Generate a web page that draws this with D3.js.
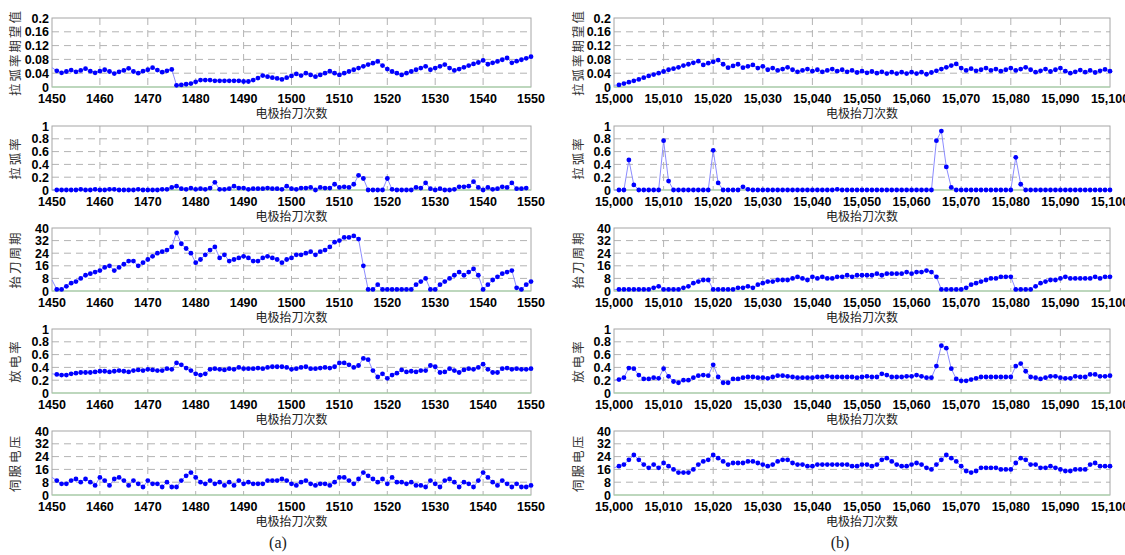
<!DOCTYPE html>
<html>
<head>
<meta charset="utf-8">
<script src="https://d3js.org/d3.v7.min.js"></script>
<style>
  body { margin: 0; background: #fff; }
</style>
</head>
<body>
<div id="chart"></div>
<script>
// ---- data (index 0 = value at the axis start, markers from index 1) ----
const leftStart = 1450;
const rightStart = 15000;

const leftArcMean = [0.056,
  0.047,0.041,0.045,0.049,0.044,0.048,0.053,0.046,0.041,0.046,
  0.050,0.045,0.039,0.044,0.048,0.054,0.045,0.040,0.046,0.050,
  0.056,0.049,0.043,0.047,0.051,0.005,0.006,0.008,0.010,0.015,
  0.020,0.020,0.020,0.018,0.018,0.018,0.018,0.018,0.018,0.016,
  0.016,0.020,0.026,0.033,0.030,0.027,0.025,0.022,0.027,0.032,
  0.038,0.033,0.040,0.035,0.030,0.035,0.040,0.046,0.040,0.035,
  0.040,0.045,0.050,0.055,0.060,0.065,0.069,0.074,0.062,0.052,
  0.045,0.040,0.035,0.040,0.045,0.050,0.055,0.060,0.050,0.055,
  0.060,0.065,0.055,0.048,0.052,0.057,0.062,0.067,0.071,0.077,
  0.066,0.070,0.074,0.079,0.084,0.070,0.075,0.079,0.083,0.088];
const rightArcMean = [0.005,
  0.006,0.010,0.014,0.018,0.022,0.027,0.032,0.036,0.040,0.045,
  0.050,0.053,0.057,0.062,0.066,0.070,0.075,0.064,0.069,0.073,
  0.078,0.066,0.056,0.061,0.066,0.056,0.060,0.064,0.055,0.060,
  0.050,0.055,0.048,0.052,0.057,0.050,0.044,0.048,0.052,0.046,
  0.050,0.044,0.048,0.052,0.046,0.050,0.044,0.048,0.042,0.046,
  0.041,0.045,0.040,0.044,0.039,0.043,0.039,0.043,0.039,0.043,
  0.039,0.043,0.037,0.042,0.047,0.052,0.057,0.062,0.067,0.055,
  0.048,0.053,0.047,0.050,0.055,0.048,0.052,0.046,0.050,0.055,
  0.048,0.052,0.057,0.050,0.043,0.047,0.052,0.045,0.050,0.055,
  0.046,0.040,0.044,0.049,0.043,0.048,0.042,0.047,0.051,0.046];

const leftArcRate = [0,
  0,0,0,0,0,0.01,0,0,0.01,0,
  0,0.01,0.01,0,0,0,0,0.01,0,0,
  0,0,0.01,0.01,0.04,0.06,0.02,0.01,0.03,0.01,
  0.02,0.01,0.03,0.12,0.01,0.01,0.02,0.06,0.03,0.03,
  0.01,0.02,0.02,0.02,0.03,0.02,0.02,0.01,0.06,0.02,
  0.01,0.03,0.03,0.04,0,0.04,0.03,0.03,0.09,0.04,
  0.05,0.04,0.09,0.23,0.18,0,0,0,0,0.18,
  0.01,0,0,0,0,0.04,0.03,0.11,0.02,0,
  0.02,0,0,0.01,0.05,0.05,0.06,0.13,0.04,0,
  0.04,0.01,0.02,0.05,0.04,0.11,0.02,0.02,0.03];
const rightArcRate = [0,
  0,0,0.47,0.08,0,0,0,0,0,0.77,
  0.14,0,0,0,0,0,0,0,0,0.62,
  0.11,0,0,0,0,0.05,0.01,0,0,0,
  0,0,0,0,0,0,0,0,0,0,
  0,0,0,0,0.01,0,0,0,0,0,
  0,0,0,0,0,0,0,0,0,0,
  0,0,0,0,0.77,0.92,0.36,0.04,0,0,
  0,0,0,0,0,0,0,0,0,0,
  0.51,0.09,0,0,0,0,0,0,0,0,
  0,0,0,0,0,0,0,0,0,0];

const leftLiftPeriod = [7,
  1,1,3,5,6,8,10,11,12,13,
  15,16,13,15,17,19,19,16,18,20,
  22,24,25,26,28,37,30,27,24,18,
  20,23,26,28,21,23,19,20,21,22,
  21,19,19,21,22,21,20,18,20,21,
  23,23,24,25,23,25,26,28,31,32,
  34,34,35,33,16,1,1,4,1,1,
  1,1,1,1,1,4,6,8,1,1,
  4,6,8,10,12,10,12,14,10,1,
  4,7,9,11,12,13,2,1,4,6];
const rightLiftPeriod = [1,
  1,1,1,1,1,1,1,2,3,1,
  1,1,1,2,3,5,6,7,7,1,
  1,1,1,1,2,2,3,2,4,5,
  6,6,7,7,7,8,9,8,7,9,
  8,9,8,8,9,9,10,9,10,10,
  10,10,11,10,11,11,11,11,12,11,
  12,12,13,12,9,1,1,1,1,1,
  2,4,5,6,7,8,8,9,9,9,
  1,1,1,1,3,5,6,7,7,8,
  9,8,8,8,8,8,9,8,9,9];

const leftDischarge = [0.30,
  0.29,0.28,0.28,0.30,0.31,0.32,0.32,0.32,0.33,0.34,
  0.34,0.33,0.34,0.35,0.34,0.33,0.35,0.36,0.35,0.37,
  0.36,0.35,0.35,0.38,0.37,0.47,0.44,0.39,0.35,0.30,
  0.28,0.30,0.37,0.38,0.37,0.36,0.38,0.37,0.40,0.38,
  0.38,0.38,0.39,0.38,0.40,0.41,0.41,0.41,0.40,0.37,
  0.38,0.40,0.41,0.38,0.38,0.39,0.40,0.39,0.41,0.47,
  0.47,0.44,0.40,0.43,0.54,0.52,0.35,0.25,0.30,0.23,
  0.28,0.31,0.36,0.33,0.34,0.33,0.35,0.35,0.43,0.41,
  0.32,0.33,0.38,0.35,0.32,0.36,0.38,0.37,0.40,0.45,
  0.37,0.32,0.32,0.38,0.39,0.37,0.38,0.37,0.37,0.38];
const rightDischarge = [0.20,
  0.21,0.24,0.39,0.38,0.28,0.22,0.22,0.24,0.23,0.38,
  0.26,0.18,0.16,0.20,0.20,0.24,0.27,0.28,0.27,0.44,
  0.25,0.16,0.16,0.22,0.22,0.24,0.25,0.25,0.24,0.24,
  0.23,0.25,0.27,0.27,0.26,0.25,0.24,0.24,0.24,0.24,
  0.25,0.25,0.26,0.25,0.25,0.25,0.25,0.25,0.24,0.25,
  0.26,0.25,0.25,0.30,0.28,0.25,0.25,0.25,0.26,0.26,
  0.28,0.26,0.24,0.24,0.42,0.74,0.70,0.38,0.22,0.19,
  0.19,0.21,0.23,0.25,0.25,0.25,0.25,0.25,0.25,0.25,
  0.42,0.46,0.34,0.25,0.24,0.22,0.24,0.26,0.26,0.24,
  0.23,0.23,0.26,0.25,0.25,0.29,0.29,0.26,0.26,0.27];

const leftServoV = [11,
  9,7,7,9,10,8,10,8,6,11,
  9,6,10,11,9,6,9,7,5,9,
  7,7,5,8,5,5,9,12,14,11,
  8,7,9,7,8,6,8,6,9,7,
  8,7,7,7,9,9,9,10,9,7,
  6,8,9,7,6,7,7,6,8,11,
  11,9,7,10,14,12,10,8,10,7,
  11,8,8,7,8,6,6,5,9,7,
  5,9,10,8,5,8,7,5,9,14,
  11,8,6,9,7,5,7,5,5,6];
const rightServoV = [17,
  18,19,22,25,22,19,17,19,17,20,
  18,16,14,14,14,16,19,21,22,25,
  23,21,19,20,20,20,21,21,20,19,
  18,19,21,22,22,20,19,19,18,18,
  19,19,19,19,19,19,19,18,18,19,
  19,18,19,22,23,21,19,18,18,19,
  20,19,17,16,19,22,25,23,21,18,
  15,14,15,17,17,17,17,16,16,16,
  20,23,22,19,19,17,17,18,17,16,
  15,15,16,16,16,19,20,18,18,18];

// ---- rows and columns ----
const rowLabels = ["拉弧率期望值", "拉弧率", "抬刀周期", "放电率", "伺服电压"];
const rowTicks = [
  [0, 0.04, 0.08, 0.12, 0.16, 0.2],
  [0, 0.2, 0.4, 0.6, 0.8, 1],
  [0, 8, 16, 24, 32, 40],
  [0, 0.2, 0.4, 0.6, 0.8, 1],
  [0, 8, 16, 24, 32, 40]
];
const xTicksLeft = d3.range(1450, 1551, 10);
const xTicksRight = d3.range(15000, 15101, 10);

const leftSeries = [leftArcMean, leftArcRate, leftLiftPeriod, leftDischarge, leftServoV];
const rightSeries = [rightArcMean, rightArcRate, rightLiftPeriod, rightDischarge, rightServoV];

const rowTop = [18, 126, 228, 329, 431];
const rowBottom = [87, 190, 291, 393, 495];

const cols = [
  {x0: 52, x1: 531, start: leftStart, ticks: xTicksLeft, fmt: d3.format("d"), series: leftSeries, ylabX: 16, tag: "(a)", tagX: 278},
  {x0: 614, x1: 1110, start: rightStart, ticks: xTicksRight, fmt: d3.format(","), series: rightSeries, ylabX: 579, tag: "(b)", tagX: 840}
];

const tickFont = "'Liberation Sans', Arial, sans-serif";
const cjkFont = "'Noto Sans CJK SC', 'Noto Sans', sans-serif";

const svg = d3.select("#chart").append("svg")
  .attr("width", 1125)
  .attr("height", 555)
  .style("background", "#fff");

cols.forEach(function(c) {
  const x = d3.scaleLinear().domain([c.start, c.start + 100]).range([c.x0, c.x1]);

  rowTicks.forEach(function(ticks, r) {
    const y = d3.scaleLinear().domain([0, ticks[ticks.length - 1]]).range([rowBottom[r], rowTop[r]]);
    const g = svg.append("g");
    const vals = c.series[r];
    const pts = vals.map(function(v, i) { return {x: c.start + i, y: v}; });

    // dashed grid
    g.selectAll(".vg").data(c.ticks.slice(1, -1)).join("line")
      .attr("x1", d => x(d)).attr("x2", d => x(d))
      .attr("y1", rowTop[r]).attr("y2", rowBottom[r])
      .attr("stroke", "#b3b3b3").attr("stroke-dasharray", "7,5");
    g.selectAll(".hg").data(ticks.slice(1, -1)).join("line")
      .attr("x1", c.x0).attr("x2", c.x1)
      .attr("y1", d => y(d)).attr("y2", d => y(d))
      .attr("stroke", "#b3b3b3").attr("stroke-dasharray", "7,5");

    // frame
    g.append("rect")
      .attr("x", c.x0).attr("y", rowTop[r])
      .attr("width", c.x1 - c.x0).attr("height", rowBottom[r] - rowTop[r])
      .attr("fill", "none").attr("stroke", "#a6a6a6");

    // green zero line
    g.append("line")
      .attr("x1", c.x0).attr("x2", c.x1)
      .attr("y1", y(0)).attr("y2", y(0))
      .attr("stroke", "#a8dba8").attr("stroke-width", 1.2);

    // data line
    g.append("path")
      .datum(pts)
      .attr("fill", "none")
      .attr("stroke", "#8c8cff")
      .attr("stroke-width", 1)
      .attr("d", d3.line().x(d => x(d.x)).y(d => y(d.y)));

    // markers
    g.selectAll("circle").data(pts.slice(1)).join("circle")
      .attr("cx", d => x(d.x)).attr("cy", d => y(d.y))
      .attr("r", 2.4).attr("fill", "#0000ff");

    // y tick labels
    g.selectAll(".yt").data(ticks).join("text")
      .attr("x", c.x0 - 3).attr("y", d => y(d) + 4.5)
      .attr("text-anchor", "end")
      .attr("font-family", tickFont).attr("font-weight", "bold")
      .attr("font-size", "12.5px").attr("fill", "#000")
      .text(d => String(+d.toFixed(2)));

    // x tick labels
    g.selectAll(".xt").data(c.ticks).join("text")
      .attr("x", d => x(d)).attr("y", rowBottom[r] + 16)
      .attr("text-anchor", "middle")
      .attr("font-family", tickFont).attr("font-weight", "bold")
      .attr("font-size", "12.5px").attr("fill", "#000")
      .text(d => c.fmt(d));

    // x label
    g.append("text")
      .attr("x", (c.x0 + c.x1) / 2).attr("y", rowBottom[r] + 31)
      .attr("text-anchor", "middle")
      .attr("font-family", cjkFont).attr("font-size", "12px").attr("fill", "#222")
      .text("电极抬刀次数");

    // y label
    const cy = (rowTop[r] + rowBottom[r]) / 2;
    g.append("text")
      .attr("transform", `translate(${c.ylabX + 4},${cy}) rotate(-90)`)
      .attr("text-anchor", "middle")
      .attr("font-family", cjkFont).attr("font-size", "12.5px")
      .attr("letter-spacing", "2px").attr("fill", "#333")
      .text(rowLabels[r]);
  });

  svg.append("text")
    .attr("x", c.tagX).attr("y", 548)
    .attr("text-anchor", "middle")
    .attr("font-family", "'Liberation Serif', 'Times New Roman', serif")
    .attr("font-size", "16px").attr("fill", "#222")
    .text(c.tag);
});
</script>
</body>
</html>
